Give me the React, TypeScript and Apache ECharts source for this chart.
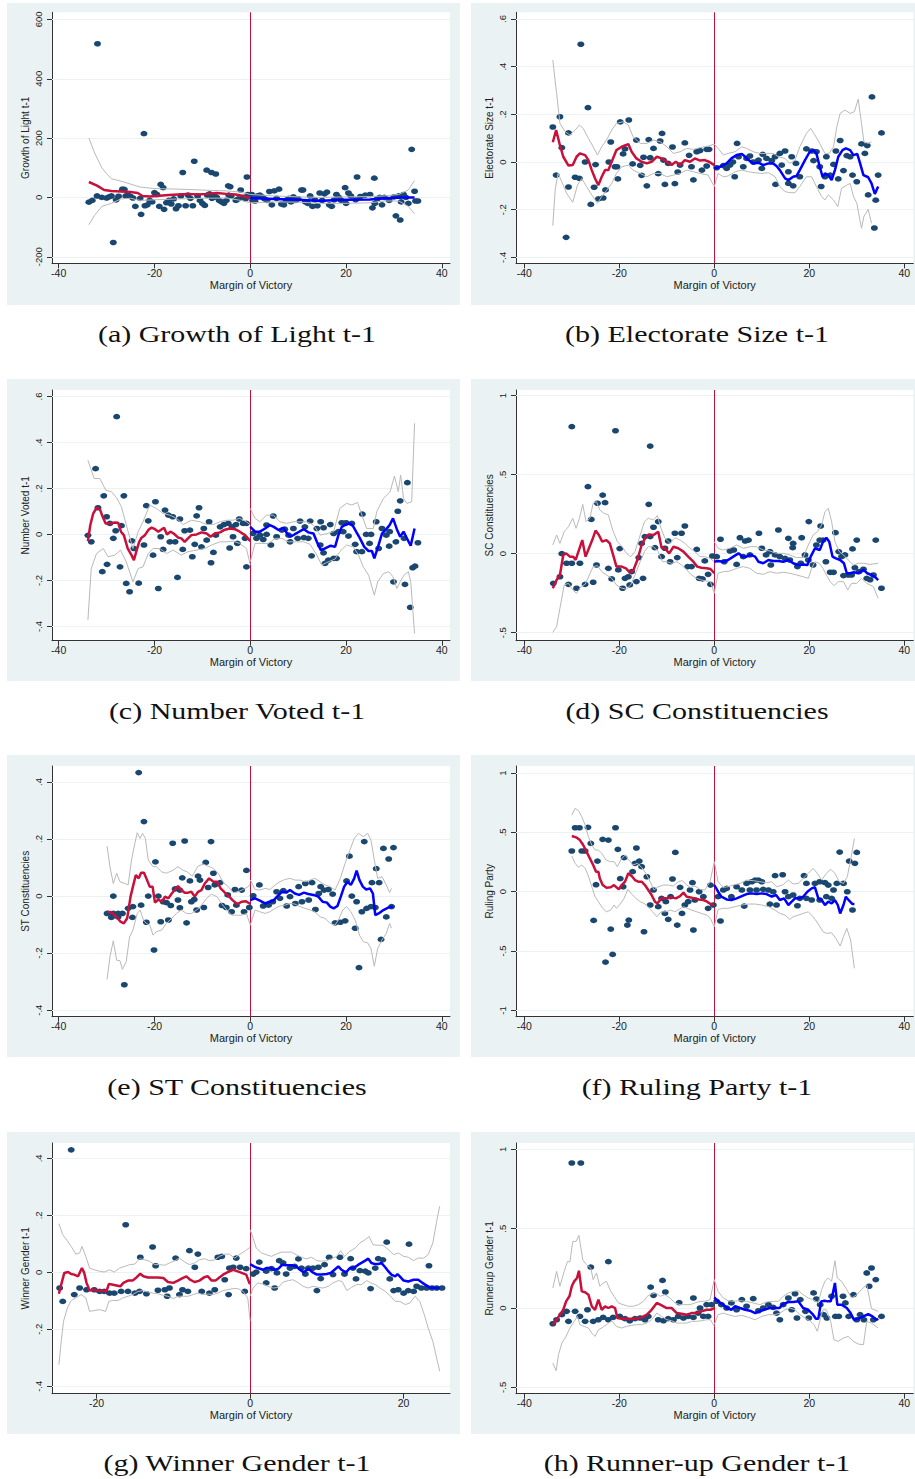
import React, { useEffect, useRef } from "react";
import * as echarts from "echarts";

const FONT = "'Liberation Sans', Arial, Helvetica, sans-serif";
const SERIF = "'Liberation Serif', 'Times New Roman', serif";
const NAVY = "#1a476f";
const RED = "#c8103a";
const BLUE = "#0000ff";
const GREY = "#b9b9b9";
const BG = "#eaf2f3";

const xTicks = [-40, -20, 0, 20, 40];
const xTicksG = [-20, 0, 20];

const captions = [
  "(a) Growth of Light t-1",
  "(b) Electorate Size t-1",
  "(c) Number Voted t-1",
  "(d) SC Constituencies",
  "(e) ST Constituencies",
  "(f) Ruling Party t-1",
  "(g) Winner Gender t-1",
  "(h) Runner-up Gender t-1",
];
const yTitles = [
  "Growth of Light t-1",
  "Electorate Size t-1",
  "Number Voted t-1",
  "SC Constituencies",
  "ST Constituencies",
  "Ruling Party",
  "Winner Gender t-1",
  "Runnerup Gender t-1",
];
const xTitle = "Margin of Victory";

const yTicksA = [-200, 0, 200, 400, 600];
const yTicksB = [-0.4, -0.2, 0, 0.2, 0.4, 0.6];
const yTicksC = [-0.4, -0.2, 0, 0.2, 0.4, 0.6];
const yTicksD = [-0.5, 0, 0.5, 1];
const yTicksE = [-0.4, -0.2, 0, 0.2, 0.4];
const yTicksF = [-1, -0.5, 0, 0.5, 1];
const yTicksG = [-0.4, -0.2, 0, 0.2, 0.4];
const yTicksH = [-0.5, 0, 0.5, 1];

// ---------- Panel (a) ----------
const aScatter = [-31.9,518,-22.2,215,-11.7,122,-14.1,84,-9.1,92,-8.1,84,-7.2,79,-0.7,69,-28.6,-152,-22.8,-57,22.3,69,25.9,65,33.7,162,30.4,-62,31.3,-76,19.8,33,10.7,25,34.3,21,35,-12,-4.6,39,-4.2,36,-18.7,44,-18.2,33,-20,16,-26.3,27,
-33.7,-16,-33,-10,-32,5,-31,0,-30,-2,-29.5,2,-29,5,-28,-8,-27.5,4,-26.7,28,-26,5,-25.5,8,-25,3,-24.5,-2,-24,-30,-23,-3,-22,-28,-21.5,-25,-21,-10,-20.5,-15,-19.5,10,-19,-30,-18,-40,-17.5,-18,-17,-10,-16.5,-22,-16,-5,-15.5,-38,-15,-28,-14.5,5,-13.5,-28,-13,8,-12.5,-3,-12,-28,-11,5,-10.5,-10,-10,-20,-9.5,-27,-9,8,-8.5,12,-8,-3,-7.5,5,-7,0,-6.5,-10,-6,-15,-5.5,-20,-5,-10,-4.5,8,-4,5,-3,-10,-2.5,-5,-2,25,-1.5,0,-1,-5,-0.5,10,
0.3,10,0.5,-10,1,-12,1.5,5,2,8,2.5,2,3,-5,3.5,-10,4,20,4.5,-25,5,22,5.5,-3,6,28,6.5,-22,7,-25,7.5,-10,8,-3,8.5,-15,9,2,9.5,-10,10,-5,11,25,11.5,-15,12,-20,12.5,5,13,-30,13.5,-8,14,-28,14.5,15,15,-10,15.5,12,16,18,16.5,-25,17,-30,17.5,-8,18,10,18.5,0,19,-10,20,-20,20.5,15,21,5,22,-8,23,3,24,8,25,10,25.5,-35,26,-20,26.5,-5,27,0,27.5,-25,28,0,29,-10,30,2,31,5,31.5,-15,32,10,32.5,0,33,-20,34.5,-12];
const aRed = [-33.7,52,-32,40,-30.5,25,-29,22,-27,20,-25,18,-23.5,15,-22.5,5,-21,3,-19,6,-17,8,-15,10,-13,12,-11,10,-9,12,-7,15,-5,12,-3,10,-1.5,5,0,-2];
const aRedHi = [-33.7,200,-32.5,150,-31,100,-30,80,-29,63,-27,55,-25,45,-23,35,-20,30,-15,28,-10,25,-5,22,-2,18,0,10];
const aRedLo = [-33.7,-92,-32.5,-60,-31,-30,-29,-20,-27,-5,-25,-3,-23,-10,-20,-8,-15,-5,-10,-3,-5,-2,-2,-10,0,-18];
const aBlue = [0,-2,5,-5,10,-8,15,-12,16,-10,20,-8,25,-7,28,-3,32,0,34.3,0];
const aBlueHi = [0,10,5,5,10,2,15,0,20,2,25,3,28,5,31,10,33,25,34.3,57];
const aBlueLo = [0,-18,5,-15,10,-16,15,-20,20,-20,25,-18,28,-12,31,-12,33,-30,34.3,-55];

// ---------- Panel (b) ----------
const bScatter = [-28.1,.494,-31.2,-.316,33.2,.273,33.7,-.277,35.2,.122,-26.6,.228,-34,.147,-32.5,.19,-30.7,.122,-32.1,.06,-33.3,-.055,-30.7,-.105,-29.3,-.064,-28.4,-.069,-27.2,0,-26,-.178,-25.3,-.106,-25,-.011,-24.4,-.155,-23.4,-.151,-22.9,-.117,-22.2,0,-21.8,.084,-20.9,-.02,-20.5,-.02,-20.3,-.071,-19.8,.168,-18,.176,-19.2,.034,-18.8,.055,-17.2,-.008,-16.4,.092,-15.6,-.014,-15.3,-.056,-14.2,-.1,-14.9,.02,-13.5,.018,-13.8,.094,-12.8,.057,-11.8,-.049,-11.4,.088,-11,.12,-10.4,-.094,-10.7,.008,-9.7,-.006,-8.8,.063,-8.3,-.091,-7.7,-.042,-7.2,-.013,-6.2,.08,-5.3,.028,-4.8,-.02,-4.4,-.075,-3.7,.043,-3,.048,-1.6,.053,-1.1,.053,-2.6,-.034,-1.6,-.017,
.5,-.024,1.9,-.015,2.6,-.027,3.3,-.013,4.3,-.062,4.8,.078,3.9,0,5.1,.022,6.1,-.02,6.8,.015,7.5,.025,8.2,0,9.3,.008,10.2,.032,10,-.027,11,.015,12.1,.006,12.8,.022,12.9,-.094,13.8,.036,14.9,.046,14.2,-.013,15.6,-.041,16.3,.022,17.2,-.006,18,-.062,15.6,-.09,16.6,-.1,19.4,.055,20.5,.046,21.5,.043,20.9,.006,22.2,-.02,22.5,-.103,23.3,-.062,24.4,-.055,23.6,.022,25.1,-.01,25.6,.046,26.1,-.071,26.5,.09,27.2,-.036,27.9,.027,28.6,.022,29.1,-.055,30,-.083,31,.076,31.7,.036,32.2,.069,32.4,-.138,34,-.16,34.5,-.055];
const bRed = [-34,.083,-33.3,.134,-32.6,.078,-31.8,.022,-30.7,-.015,-29.8,-.013,-29,.022,-28.3,.036,-27.2,.029,-26.5,.008,-25.8,-.034,-25.1,-.069,-24.4,-.097,-23.7,-.062,-23,-.034,-22.3,-.034,-21.6,.001,-20.6,.05,-19.5,.064,-18.1,.075,-17.4,.043,-16.4,.015,-15.3,.001,-14.2,-.006,-13.2,.001,-12.1,.022,-11.1,.015,-10,.001,-9,-.013,-8.1,.001,-7.2,-.013,-6.2,.008,-5.1,.001,-4.1,.015,-3,.006,-2,.008,-1.1,.001,0,-.013];
const bRedHi = [-34,.428,-33.2,.288,-32.5,.162,-31.4,.127,-30.4,.113,-29.3,.134,-28.4,.155,-27.6,.141,-26.5,.099,-25.5,.064,-24.6,.029,-23.7,.064,-22.7,.092,-21.6,.134,-20.6,.162,-19.2,.169,-18.1,.155,-17.1,.106,-15.6,.078,-14.2,.078,-12.8,.092,-11.4,.085,-10,.064,-8.6,.036,-7.2,.043,-5.8,.057,-4.4,.053,-3,.06,-1.3,.067,0,.075];
const bRedLo = [-34,-.267,-33.5,-.117,-32.9,-.048,-32.1,-.083,-31.1,-.131,-29.8,-.169,-28.8,-.097,-27.9,-.069,-26.9,-.103,-25.8,-.138,-24.6,-.173,-23.7,-.145,-22.7,-.12,-21.6,-.09,-20.6,-.048,-19.5,-.02,-18.1,-.013,-17.1,-.034,-15.6,-.048,-14.2,-.062,-12.8,-.048,-11.4,-.048,-10,-.062,-8.6,-.055,-7.2,-.048,-5.8,-.034,-4.4,-.041,-3,-.048,-1.3,-.055,0,-.103];
const bBlue = [0,-.027,1.2,-.02,2.6,-.006,3.6,.015,4.7,.029,5.8,.034,6.5,.022,7.2,.008,8.2,-.006,9.3,-.003,10.3,-.013,11.4,-.006,12.4,-.006,13.1,-.017,13.8,-.034,14.9,-.069,15.6,-.076,16.6,-.062,17.3,-.059,18,-.034,19.1,.008,20.1,.043,21,.05,21.5,.036,22.2,-.02,22.8,-.062,23.3,-.048,24,-.055,24.7,-.076,25.4,-.034,26.1,.022,27,.05,27.7,.057,28.6,.05,29.3,.029,30.1,.034,30.7,-.006,31.4,-.055,32.4,-.064,33.1,-.09,33.8,-.134,34.5,-.103];
const bBlueHi = [0,.075,.8,.057,1.9,.029,2.9,.036,4.4,.043,5.8,.064,6.8,.057,8.2,.043,9.6,.036,11,.036,12.4,.036,13.5,.022,14.9,.015,15.9,-.006,17,.008,18,.064,19.4,.12,20.3,.141,21.2,.113,22.2,.078,23.3,.036,24.2,.036,25.1,.064,25.8,.148,26.5,.204,27.5,.218,28.6,.204,29.5,.211,30.3,.264,31,.162,31.5,.085,32.4,.078,33.1,.085];
const bBlueLo = [0,-.103,.8,-.048,1.9,-.062,2.9,-.059,4.4,-.041,5.8,-.034,7.2,-.041,8.6,-.045,10,-.048,11.4,-.045,12.8,-.062,13.8,-.103,14.9,-.124,15.9,-.129,17,-.129,18,-.103,19.4,-.062,20.5,-.062,21.5,-.103,22.6,-.145,23.3,-.159,24,-.138,25.1,-.159,26,-.187,26.8,-.11,27.9,-.097,28.6,-.09,29.3,-.145,30,-.173,31,-.278,31.5,-.229,32.4,-.199,33.1,-.257];

// ---------- Panel (c) ----------
const cScatter = [-27.9,.512,-32.3,.286,-33.9,-.004,-33.2,-.032,-30.6,.168,-30,.077,-31.8,.116,-30.9,-.162,-29.9,-.13,-28.6,-.017,-28.1,.016,-29.3,.048,-26.9,.038,-26.4,.168,-27.2,-.141,-25.9,-.213,-25.2,-.249,-24.7,-.028,-24.3,-.061,-23.3,-.212,-22.2,-.046,-21.7,.125,-21.3,.059,-20.3,-.09,-19.8,.142,-19.2,-.235,-18.7,-.01,-18.2,-.065,-17.8,.106,-17.1,.084,-16.2,.077,-16.8,-.032,-15.7,-.032,-15.2,-.187,-14.7,.067,-14.1,-.065,-13.7,.016,-12.6,.019,-12.1,-.097,-11.6,-.043,-11.2,.081,-10.7,.116,-10.2,-.054,-9.7,.026,-9.1,-.025,-8.6,.055,-8.2,-.123,-7.7,-.078,-7.2,-.003,-6.3,.033,-5.5,.043,-4.6,.048,-3.8,.033,-3,.043,-2.3,.067,-1.5,.048,-.8,.048,-4.3,-.059,-3.6,-.01,-2.7,-.039,-.8,-.141,-1.1,-.017,
.6,.004,1.3,-.017,2,-.003,2.7,-.022,3.4,0,4.3,-.046,3.4,.041,4.8,.08,5.5,-.01,6.6,.019,7.2,.023,8,-.003,9,.026,8.3,-.032,9.9,-.017,10.4,.058,11.4,.033,12.5,.058,11.2,-.014,12.1,-.017,12.8,-.093,13.9,.026,14.7,.055,15.3,.029,14.6,-.046,15.3,-.08,15.6,-.126,16.3,-.112,17.4,-.104,18,-.104,16.7,.043,17.4,.004,18.4,.012,19.1,.051,20,.051,21.2,.048,19.4,.012,20.5,-.007,21.9,-.043,22.2,-.075,23.3,-.075,23.4,.088,24.2,0,25.2,0,24.9,-.039,26.3,.055,26.8,-.061,27.5,.026,28.4,-.003,29.1,.012,29,-.051,29.9,-.206,30.4,-.032,30.8,.101,31.3,.146,32.1,-.017,32.3,-.217,32.8,.225,33.4,-.317,33.9,-.145,34.4,-.138,35,-.036];
const cRed = [-33.9,-.029,-33.4,.041,-32.8,.091,-32.1,.116,-31.4,.11,-30.9,.081,-30.2,.048,-29.3,.048,-28.3,.052,-27.6,.051,-27,.012,-26.4,-.003,-25.6,-.061,-24.8,-.09,-24.3,-.112,-23.8,-.075,-23.2,-.032,-22.7,-.014,-22,-.003,-21.3,.019,-20.6,.03,-19.9,.023,-19.2,.012,-18.7,.019,-18,.029,-17.4,0,-16.7,.012,-16,.004,-15.1,-.013,-14.4,-.017,-13.7,-.032,-13,-.017,-12.3,-.003,-11.2,0,-10.2,.009,-9.1,.004,-8.3,-.01,-7.4,.004,-6.3,.009,-5.5,.019,-4.3,.026,-3.2,.023,-2.2,.012,-1.1,-.003,0,-.029];
const cRedHi = [-33.9,.323,-32.6,.243,-31.4,.243,-30.2,.193,-29,.186,-27.9,.159,-26.9,.12,-25.5,.012,-24.5,-.061,-23.4,.012,-22.4,.055,-21,.128,-19.6,.113,-18.2,.091,-16.8,.084,-15.4,.07,-14,.043,-12.3,.062,-10.5,.055,-9.1,.043,-7.7,.043,-6.3,.055,-4.9,.062,-3.6,.062,-2.2,.07,-.8,.055,0,.041];
const cRedLo = [-33.9,-.372,-33.2,-.148,-32.1,-.083,-30.7,-.061,-29.7,-.097,-28.3,-.09,-27.1,-.068,-25.9,-.119,-24.5,-.206,-23.4,-.148,-22.4,-.141,-21.3,-.083,-20.3,-.061,-18.9,-.061,-17.5,-.083,-16.1,-.068,-14.4,-.09,-13,-.075,-11.2,-.068,-9.5,-.061,-8.1,-.046,-6.3,-.032,-4.9,-.032,-3.6,-.029,-2.2,-.039,-.8,-.061,0,-.133];
const cBlue = [0,.033,1,.012,2,.012,3.1,.026,4.1,.041,4.9,.033,5.9,.019,6.9,.029,7.7,.004,8.4,-.01,9.3,.001,10.4,.014,11.2,.023,12.1,.009,13.2,.004,13.9,-.032,14.7,-.068,15.6,-.061,16.8,-.049,17.7,-.054,18.4,-.003,19.1,.033,19.8,.041,20.7,.048,21.4,.038,22.1,.012,22.9,-.017,23.8,-.054,24.7,-.072,25.4,-.072,25.9,-.104,26.6,-.058,27.5,.004,28.4,.023,29.1,.041,29.8,.07,30.6,.023,31.3,-.01,32,.012,32.7,-.017,33.5,-.049,34.3,.026];
const cBlueHi = [0,.113,1,.07,2,.055,3.4,.084,4.8,.084,6.2,.055,7.6,.048,9,.055,10.4,.055,11.8,.055,13.2,.041,14.6,-.003,16,.004,17.4,.012,18.7,.113,20.1,.135,21.2,.128,22.4,.139,23.3,.084,24.3,.026,25.7,.026,26.4,.099,27.8,.157,29.2,.186,30.1,.254,30.9,.186,31.4,.258,32,.157,32.7,.135,33.7,.142,34.3,.483];
const cBlueLo = [0,-.119,1,-.039,2.4,-.039,3.8,-.039,5.2,-.017,6.6,-.017,7.9,-.032,9.7,-.032,11.1,-.032,12.5,-.043,13.9,-.09,14.9,-.133,16.3,-.119,17.7,-.107,18.7,-.075,20.1,-.046,21.5,-.054,22.6,-.09,23.6,-.141,24.7,-.177,25.9,-.264,26.6,-.206,27.8,-.17,28.9,-.162,29.8,-.184,30.6,-.235,31.3,-.206,32.1,-.177,33,-.162,33.5,-.206,34.3,-.43];

// ---------- Panel (d) ----------
const dScatter = [-30,.804,-20.8,.778,-13.5,.681,-26.6,.424,-23.5,.371,-24.6,.319,-23,.323,-13.8,.312,-25.9,.217,-11.8,.203,-12.8,.167,-14.6,.108,-13.5,.108,-15.3,.065,-19.9,.032,-32.1,0,-31.1,-.061,-30,-.061,-28.3,-.061,-33.9,-.188,-32.5,-.146,-30.7,-.194,-29,-.219,-27.2,-.194,-25.5,-.181,-24.8,-.072,-22.3,-.093,-21.6,-.16,-20.2,-.103,-19.3,-.219,-18.8,-.156,-18.1,-.146,-17.4,-.114,-17.8,-.198,-16.4,-.177,-15,-.156,-15.9,-.025,-12.5,.038,-11.1,-.019,-10.4,.034,-9.7,.08,-9.3,-.051,-8.3,.129,-6.9,.129,-7.8,-.025,-6.2,.175,-5.6,-.082,-4.8,-.082,-3.7,.027,-3.2,-.156,-2.5,-.16,-2,-.046,-1.3,-.131,-.8,-.194,-.4,-.015,
.5,-.019,1.3,.091,2.1,-.051,3.3,.017,4.1,.023,4.7,-.068,5.4,.101,6.5,.08,7.2,.086,6.1,-.019,7.5,-.008,9.4,.129,10,.034,10.9,-.008,11.9,-.072,11.7,.013,12.8,-.008,13.8,-.019,13.5,.15,14.9,-.03,15.9,-.04,15.6,.097,16.6,.065,16.5,.038,17.5,-.082,18.2,-.061,18.4,.101,19.1,-.008,19.8,-.04,19.9,.203,20.8,-.072,21.5,.055,22.2,.086,22.9,.086,22.4,.175,23.5,-.051,24.4,-.118,25.1,-.118,25.5,.133,26.2,.013,26.8,-.019,27.5,-.008,27.2,-.139,28.2,-.135,28.9,-.135,29.1,.03,30,.086,29.6,-.089,30.5,-.114,31.4,-.099,32.1,-.156,32.8,-.165,33.5,-.135,34,.086,35.2,-.219];
const dRed = [-34,-.219,-33.2,-.167,-32.5,-.135,-31.8,-.008,-31.2,.002,-30.4,-.019,-29.7,-.019,-29.2,-.04,-28.5,.023,-27.8,.086,-27.1,-.019,-26.4,.034,-25.7,.086,-25,.146,-24.3,.118,-23.6,.076,-22.7,.086,-22,.065,-21.3,-.008,-20.6,-.082,-19.5,-.082,-18.6,-.093,-17.8,-.118,-17.1,-.11,-16.2,-.04,-15.3,.055,-14.6,.097,-13.8,.122,-12.8,.118,-11.8,.139,-11.1,.038,-10.4,.034,-9.5,.002,-8.6,.044,-7.6,.034,-6.5,.013,-5.5,-.019,-4.4,-.051,-3.6,-.082,-2.7,-.089,-1.6,-.093,-.8,-.097,0,-.124];
const dRedHi = [-34,.055,-33.2,.118,-32.5,.065,-31.6,.139,-30.7,.171,-29.8,.224,-29.1,.16,-28.4,.224,-27.7,.312,-27,.203,-26.2,.224,-25.5,.319,-24.8,.329,-24.1,.276,-23.2,.255,-22.3,.245,-21.4,.15,-20.4,.076,-19.4,.044,-18.5,.002,-17.6,-.019,-16.7,.013,-15.6,.118,-14.7,.203,-13.9,.224,-12.8,.213,-12,.241,-11.2,.16,-10.4,.097,-9.3,.065,-8.3,.101,-7.2,.086,-6.2,.065,-5.1,.034,-4.1,.013,-3,-.019,-2,-.019,-.9,-.03,0,-.051];
const dRedLo = [-34,-.498,-33.2,-.462,-32.5,-.346,-31.6,-.198,-30.7,-.188,-29.8,-.23,-29,-.251,-28.1,-.209,-27.2,-.194,-26.3,-.135,-25.5,-.082,-24.6,-.076,-23.7,-.114,-22.7,-.135,-21.6,-.156,-20.6,-.198,-19.5,-.219,-18.5,-.224,-17.6,-.198,-16.7,-.135,-15.6,-.051,-14.7,.013,-13.9,.044,-12.8,.044,-11.8,.013,-10.9,-.051,-10,-.051,-9,-.061,-7.9,-.051,-6.9,-.072,-5.8,-.103,-4.8,-.135,-3.7,-.156,-2.7,-.167,-1.6,-.173,-.8,-.177,0,-.251];
const dBlue = [0,-.051,.8,-.046,1.9,-.051,2.9,-.04,4,-.019,5.1,.002,6,-.019,6.8,-.019,7.6,-.008,8.6,-.019,9.3,-.051,10.3,-.061,11.4,-.04,12.4,-.046,13.5,-.046,14.5,-.051,15.6,-.04,16.6,-.061,17.7,-.072,18.7,-.068,19.6,-.072,20.3,-.019,21.2,.034,22.2,.023,22.9,.076,23.6,.101,24.2,.076,24.9,-.019,25.6,-.03,26.5,-.04,27.3,-.061,27.9,-.124,28.6,-.124,29.4,-.118,30.3,-.124,31.4,-.103,32.2,-.124,33.1,-.135,34,-.152,34.5,-.167];
const dBlueHi = [0,.076,.8,.034,1.9,.023,3.3,.034,4.7,.055,6.1,.034,7.5,.044,8.9,.044,10.3,.023,11.7,.017,13.1,.002,14.5,.002,15.9,-.008,17.3,-.025,18.7,-.025,19.8,.055,20.8,.118,21.7,.139,22.6,.181,23.3,.266,24,.287,24.7,.203,25.4,.076,26.3,.013,27.2,-.008,28.2,-.04,29.3,-.072,30.3,-.061,31.4,-.061,32.8,-.068,34.5,-.061];
const dBlueLo = [0,-.251,.8,-.124,1.9,-.114,3.3,-.11,4.7,-.093,6.1,-.082,7.5,-.093,8.9,-.124,10.3,-.131,11.7,-.114,13.1,-.124,14.5,-.118,15.9,-.124,17.3,-.135,18.7,-.146,19.8,-.156,20.5,-.093,21.2,-.051,22.1,-.061,22.9,-.093,23.6,-.135,24.4,-.177,25.2,-.203,26.1,-.177,27.2,-.177,28.1,-.23,28.9,-.188,30,-.188,31,-.156,32.1,-.188,33.5,-.209,34.5,-.283];

// ---------- Panel (e) ----------
const eScatter = [-23.3,.433,-22.2,.261,-16.2,.185,-13.7,.193,-8.2,.191,-19.8,.12,-9.3,.118,-.8,.09,-7.7,.08,-10.5,.056,-14.2,.064,-12.6,.053,-8.8,.03,-7.4,.039,-6.3,.047,-10.9,.07,-15.7,.025,-14.7,.021,-28.6,0,-21.3,0,-19.2,0,-29.9,-.061,-28.6,-.061,-27.6,-.061,-26.7,-.061,-29,-.075,-27.6,-.073,-25.5,-.043,-24.5,-.037,-24.6,-.075,-22.8,-.032,-21.7,-.092,-26.3,-.311,-20.1,-.189,-18.7,-.09,-17.1,-.084,-18.2,-.02,-17.5,-.023,-16.6,-.033,-15.1,-.014,-14.7,-.041,-13.3,-.094,-12.3,-.02,-11.7,-.012,-11.2,-.049,-9.7,-.04,-5.9,-.033,-5,-.04,-3.9,-.055,-4.7,.004,-3.2,.023,-1.8,.021,-2.9,-.032,-1.3,-.055,-.2,-.04,
.6,.001,1.9,.039,2.7,-.035,3.8,-.032,4.7,-.02,5.5,.015,6.2,-.008,6.9,.019,7.6,-.035,8.3,-.002,9.4,-.026,10.1,.033,10.8,-.02,11.5,.044,12.2,-.014,12.9,.047,13.6,-.047,14.3,.009,14.7,.033,15.4,.021,16.3,.023,17.2,.007,17.7,-.094,18.8,-.092,19.8,-.087,20.7,.14,20.1,.053,21.2,0,21.9,-.113,22.2,-.02,22.7,-.251,23.8,.191,23.3,-.055,24.3,-.043,25.2,-.037,26.1,-.04,25.4,.047,26.3,.096,26.9,.047,27.3,-.152,27.8,.167,29.9,.17,28.4,-.073,28.9,.13,29.5,-.037];
const eRed = [-29.9,-.055,-29,-.057,-27.9,-.073,-27.1,-.09,-26.4,-.096,-25.7,-.078,-25,-.002,-24.5,.033,-23.9,.074,-23.3,.062,-22.8,.082,-22.2,.082,-21.7,.062,-21,.033,-20.4,.033,-19.9,-.023,-19.2,-.012,-18.5,-.02,-17.8,-.002,-17.1,-.008,-16.4,.009,-15.7,.023,-15.1,.035,-14.4,.021,-13.7,.012,-13,.012,-12.3,.015,-11.6,-.002,-10.9,.015,-10.2,.021,-9.5,.044,-8.6,.062,-7.7,.05,-6.9,.05,-6.2,.027,-5.3,.012,-4.4,-.002,-3.6,-.016,-2.7,-.028,-1.8,-.02,-.9,-.018,0,-.028];
const eRedHi = [-29.9,.175,-29.3,.103,-28.6,.044,-27.9,.08,-27.2,.05,-26.2,.044,-25.5,.039,-24.8,.126,-24.1,.185,-23.6,.222,-23,.202,-22.5,.22,-21.9,.202,-21.3,.126,-20.3,.103,-19.6,.103,-18.5,.085,-17.5,.08,-16.1,.091,-15.1,.103,-14.1,.091,-13.2,.085,-12.1,.07,-10.9,.105,-9.8,.112,-8.8,.105,-7.7,.097,-6.7,.08,-5.6,.047,-4.6,.033,-3.6,.012,-2.5,.015,-1.5,.023,-.4,.033,0,.044];
const eRedLo = [-29.9,-.292,-29.3,-.213,-28.6,-.157,-27.9,-.225,-27.2,-.227,-26.7,-.257,-25.9,-.23,-25.2,-.143,-24.5,-.119,-23.6,-.061,-23,-.049,-22.3,-.084,-21.7,-.096,-21,-.102,-20.3,-.137,-19.6,-.125,-18.5,-.119,-17.5,-.096,-16.4,-.078,-15.4,-.061,-14.4,-.049,-13.3,-.061,-12.3,-.061,-11.2,-.049,-10.2,-.032,-9.1,-.008,-8.1,.007,-7,-.002,-6,-.026,-4.9,-.049,-3.9,-.067,-2.9,-.067,-1.8,-.067,-.8,-.061,0,-.102];
const eBlue = [0,-.014,1,-.008,2,-.016,3.1,-.026,4,-.02,4.8,-.016,5.6,-.002,6.6,.015,7.5,.012,8.3,.021,9.3,.009,10.2,.004,11.2,.012,12.1,.007,13.2,.004,14.2,-.002,15.1,-.02,16,-.023,16.7,-.037,17.4,-.043,18.2,-.035,18.9,-.002,19.6,.033,20.3,.05,21,.039,21.7,.062,22.2,.089,22.8,.056,23.5,.033,24.2,.023,25,.027,25.6,.009,26.1,-.067,26.8,-.061,27.8,-.049,28.9,-.04,29.8,-.037];
const eBlueHi = [0,.056,1,.023,2,.021,3.1,.027,4.1,.023,5.2,.039,6.2,.05,7.2,.058,8.3,.062,9.3,.056,10.4,.056,11.4,.05,12.5,.056,13.5,.062,14.6,.05,15.6,.039,16.7,.033,17.7,.021,18.8,.062,19.8,.115,20.8,.161,21.7,.202,22.6,.22,23.6,.208,24.5,.22,25.2,.196,25.9,.126,26.6,.062,27.5,.068,28.4,.039,29.1,.012,29.5,.027];
const eBlueLo = [0,-.102,1,-.049,2,-.055,3.1,-.061,4.1,-.055,5.2,-.043,6.2,-.035,7.2,-.032,8.3,-.026,9.3,-.028,10.4,-.037,11.4,-.043,12.5,-.049,13.5,-.055,14.6,-.073,15.6,-.078,16.7,-.096,17.7,-.102,18.4,-.084,19.3,-.049,20.1,-.037,21,-.055,21.9,-.084,22.8,-.137,23.6,-.16,24.5,-.164,25.2,-.184,25.9,-.246,26.6,-.184,27.5,-.154,28.4,-.131,29.1,-.096,29.5,-.113];

// ---------- Panel (f) ----------
const fScatter = [-30,.343,-29.3,.539,-28.4,.539,-27.9,.343,-27.2,.343,-26.6,.542,-26,.407,-24.6,.258,-24.9,.059,-25.4,-.242,-23.5,.441,-22.3,.435,-22.9,-.593,-21.4,-.528,-21.8,-.315,-20.8,.539,-20.3,.357,-19.8,.11,-19.2,.042,-19,.287,-18.3,-.281,-18,-.239,-17.2,.169,-16.4,.368,-16.7,.239,-15.8,.258,-15.3,.211,-14.8,-.337,-14.2,.126,-13.5,-.112,-12.8,.014,-11.8,-.126,-11.1,-.056,-10.2,-.084,-9.2,-.042,-10.4,-.183,-9.7,-.233,-8.2,.331,-8.8,.107,-7.8,-.281,-7.2,.037,-6.8,-.183,-6.2,-.112,-5.5,-.084,-5.1,.014,-4.6,.076,-4.4,-.323,-4.1,-.07,-3.2,0,-2.3,-.042,-1.3,-.14,-.8,.056,-.2,-.112,
1.3,-.247,.8,-.042,1.9,.014,2.6,.028,3.6,-.042,4.7,.042,5.8,.014,6.3,-.121,6.8,.07,7.9,.084,8.6,.098,9.3,.098,10,.084,7.5,.014,8.9,.014,10.3,.02,11.4,.014,12.4,0,11.7,-.104,13.1,-.112,12.8,.135,14.4,.143,14.9,0,15.6,-.042,16.6,-.028,17.5,-.118,18,-.056,19.4,-.056,20.5,-.07,18.9,.135,19.4,.07,21.2,.07,22.2,.084,23.3,.076,24,.056,22.2,-.07,23.6,-.042,24.7,-.056,25.1,.014,25.8,.07,26.4,.334,27.2,.07,28,0,28.4,.258,29.1,-.154,29.6,.239,30,.331];
const fRed = [-30,.469,-29.1,.458,-28.3,.435,-27.6,.393,-26.9,.337,-26.2,.281,-25.5,.225,-24.9,.169,-24.4,.169,-24.1,.112,-23.5,.056,-22.7,.034,-21.8,.037,-21.1,.056,-20.6,.037,-20.1,.02,-19.5,.056,-18.8,.084,-18.1,.155,-17.4,.132,-16.7,.098,-16,.084,-15.3,.084,-14.6,.056,-13.9,.014,-13.2,-.028,-12.5,-.084,-12,-.098,-11.1,-.056,-10,-.056,-9,-.048,-8.1,-.056,-7.2,-.037,-6.5,-.008,-5.8,-.042,-5,-.048,-4.1,-.056,-3.2,-.065,-2.3,-.07,-1.5,-.084,-.8,-.104,0,-.112];
const fRedHi = [-30,.646,-29.3,.702,-28.6,.683,-27.9,.632,-27.2,.562,-26.5,.463,-25.8,.393,-25.1,.351,-24.4,.351,-23.7,.323,-22.8,.267,-21.9,.253,-21.1,.253,-20.4,.211,-19.7,.267,-18.8,.309,-18,.267,-17.1,.225,-16.2,.239,-15.3,.205,-14.4,.155,-13.5,.084,-12.7,.014,-11.8,.042,-10.7,.056,-9.7,.056,-8.6,.048,-7.6,.084,-6.7,.093,-5.8,.056,-5,.037,-4.1,.048,-3,.02,-2,.014,-.9,.084,0,.253];
const fRedLo = [-30,.301,-29.3,.239,-28.6,.205,-27.9,.225,-27.2,.197,-26.5,.132,-25.8,.042,-25.1,-.042,-24.4,-.084,-23.5,-.14,-22.7,-.169,-21.8,-.155,-21.1,-.112,-20.6,-.14,-19.8,-.104,-19,-.056,-18.2,.02,-17.4,-.02,-16.5,-.056,-15.6,-.084,-14.8,-.098,-13.9,-.126,-13,-.169,-12.1,-.211,-11.2,-.169,-10.2,-.169,-9.2,-.155,-8.3,-.169,-7.4,-.149,-6.5,-.126,-5.7,-.14,-4.8,-.155,-3.7,-.169,-2.7,-.183,-1.6,-.197,-.8,-.225,0,-.295];
const fBlue = [0,.056,.8,0,1.5,-.042,2.6,-.065,3.6,-.07,4.7,-.056,5.8,-.037,6.8,-.02,7.9,-.014,8.9,-.02,10,-.014,11,-.02,12.1,-.042,13,-.028,13.8,-.07,14.7,-.056,15.6,-.112,16.3,-.084,17,-.056,17.9,-.056,18.7,-.042,19.6,0,20.5,.028,21.2,.037,21.9,-.056,22.6,-.07,23.3,-.112,24,-.084,24.7,-.098,25.4,-.07,26,-.112,26.5,-.183,27.2,-.112,27.7,-.042,28.4,-.076,29.1,-.104,29.5,-.104];
const fBlueHi = [0,.253,.8,.084,1.9,.037,2.9,.042,4,.056,5.4,.07,6.8,.098,8.2,.093,9.6,.084,11,.076,12.1,.084,13.1,.042,14.4,.056,15.6,.098,16.6,.065,17.7,.07,18.7,.112,19.8,.155,20.8,.197,21.7,.155,22.6,.098,23.6,.155,24.5,.188,25.4,.155,26.3,.084,27.2,.07,28,.126,28.7,.267,29.5,.449];
const fBlueLo = [0,-.295,.8,-.149,1.9,-.14,2.9,-.14,4.4,-.126,5.8,-.112,7.2,-.104,8.6,-.104,10,-.112,11.4,-.126,12.8,-.155,13.8,-.183,14.9,-.197,15.9,-.233,16.6,-.211,17.7,-.197,18.7,-.183,19.8,-.169,20.8,-.211,21.9,-.272,22.9,-.337,23.6,-.351,24.7,-.346,25.6,-.393,26.5,-.458,27.2,-.379,27.9,-.309,28.7,-.407,29.5,-.646];

// ---------- Panel (g) ----------
const gScatter = [-23.3,.43,-16.2,.167,-12.7,.089,-14.3,.053,-12.3,.023,-9.7,.05,-7.9,.076,-6.8,.064,-7.2,.018,-4.2,.053,-3.7,.056,-1.8,.05,-24.8,-.055,-24.4,-.102,-22.9,-.078,-22.2,-.055,-21.3,-.061,-20.3,-.061,-19.6,-.067,-19,-.067,-18.3,-.073,-17.7,-.073,-16.8,-.067,-15.9,-.067,-15,-.073,-14.4,-.067,-13.5,-.075,-12,-.063,-11.1,-.061,-10.5,-.055,-10.8,-.084,-9.2,-.078,-8.8,-.061,-8.1,-.067,-6.3,-.067,-5.3,-.073,-4.6,-.061,-3.3,-.026,-2.8,-.078,-.7,-.067,-2.7,.015,-2.2,.018,-1.3,.018,-.5,.013,.4,-.006,.8,.001,
1.2,.036,2.1,.004,2.8,.013,3.5,-.002,3.8,.041,4.3,.033,4.7,-.006,5.2,.015,5.8,.021,6.3,.047,6.7,.015,7.2,-.006,7.6,.015,8.2,.015,8.9,.018,2.1,-.037,3.2,-.055,8.7,-.064,9.2,-.022,9.7,.027,10.3,.053,10.8,-.008,11.7,.053,12.3,-.006,13.1,.048,13.8,-.023,13.4,.015,14.3,.006,15,.004,15.4,-.002,15.7,-.057,16.3,.015,16.7,.048,17.3,.044,17.8,.106,18.2,-.023,18.7,-.064,19.3,-.061,20,-.073,20.6,-.064,21.3,-.067,20.7,.099,21.7,-.049,22.3,-.055,23,-.055,23.7,-.055,24.3,-.055,25,-.055,23.3,.023];
const gRed = [-24.9,-.075,-24.6,-.043,-24.2,-.002,-23.7,.001,-23.3,-.006,-22.9,-.008,-22.4,-.014,-22.1,.004,-21.9,.015,-21.6,-.002,-21.3,-.037,-20.9,-.064,-20.5,-.061,-19.8,-.064,-19.2,-.064,-18.7,-.067,-18.4,-.041,-18,-.043,-17.4,-.046,-16.9,-.049,-16.5,-.037,-15.9,-.029,-15.3,-.029,-14.8,-.018,-14.3,-.005,-13.9,-.014,-13.3,-.018,-12.7,-.018,-12,-.018,-11.3,-.02,-10.7,-.034,-10,-.037,-9.4,-.029,-8.8,-.02,-8.3,-.014,-7.8,-.026,-7.2,-.034,-6.6,-.029,-5.9,-.016,-5.5,-.014,-5,-.029,-4.5,-.029,-4,-.018,-3.4,-.006,-2.9,.001,-2.2,.009,-1.7,.004,-1.1,-.002,-.5,-.008,-.1,-.037,0,-.041];
const gRedHi = [-24.9,.171,-24.4,.132,-23.8,.111,-23.3,.091,-22.7,.064,-22.2,.068,-21.9,.091,-21.4,.056,-20.9,.015,-20.3,.009,-19.6,.004,-19,.001,-18.3,.009,-17.7,.001,-17,.015,-16.3,.021,-15.7,.027,-15,.029,-14.4,.048,-13.7,.044,-13.1,.039,-12.4,.027,-11.8,.027,-11.1,.025,-10.5,.033,-9.8,.041,-9.2,.05,-8.5,.036,-7.9,.027,-7.2,.033,-6.6,.044,-5.9,.048,-5.3,.041,-4.6,.044,-4,.056,-3.3,.064,-2.7,.064,-2,.05,-1.3,.064,-.7,.074,0,.088];
const gRedLo = [-24.9,-.324,-24.6,-.242,-24.3,-.172,-23.8,-.125,-23.3,-.099,-22.7,-.09,-22,-.078,-21.4,-.09,-20.9,-.137,-20.3,-.134,-19.6,-.131,-18.8,-.137,-18.4,-.102,-17.9,-.099,-17.2,-.099,-16.6,-.09,-15.9,-.084,-15.3,-.078,-14.6,-.067,-14,-.064,-13.3,-.069,-12.7,-.073,-12,-.075,-11.3,-.081,-10.7,-.084,-10,-.092,-9.4,-.084,-8.7,-.084,-8.1,-.084,-7.4,-.078,-6.8,-.073,-6.1,-.078,-5.5,-.076,-4.8,-.078,-4.2,-.073,-3.5,-.064,-2.9,-.061,-2.2,-.057,-1.6,-.057,-.9,-.067,-.3,-.09,0,-.17];
const gBlue = [0,.029,.5,.021,1,.015,1.7,.009,2.1,.015,2.7,.015,3.2,.009,3.7,.013,4.2,.027,4.7,.025,5.4,.025,6,.021,6.5,.009,7,0,7.6,.013,8.1,.001,8.7,-.008,9.3,-.008,10,-.006,10.5,-.002,11,.009,11.5,.021,11.9,.009,12.5,0,13,.015,13.5,.015,14.1,.027,14.5,.033,15,.041,15.4,.048,15.8,.033,16.3,.029,16.7,.029,17.1,.033,17.6,.018,18,.004,18.4,-.008,18.9,-.014,19.2,-.006,19.5,-.014,20,-.029,20.6,-.032,21.3,-.026,21.9,-.026,22.3,-.034,22.8,-.043,23.4,-.053,24.1,-.055,24.7,-.055];
const gBlueHi = [0,.15,.4,.12,.8,.085,1.5,.068,2.1,.062,2.8,.056,3.4,.064,4.1,.071,4.7,.071,5.4,.071,6,.062,6.7,.053,7.3,.047,8,.053,8.7,.041,9.3,.039,10,.041,10.6,.048,11.3,.056,11.8,.076,12.3,.056,13,.074,13.7,.085,14.3,.103,15,.115,15.5,.126,16,.097,16.7,.095,17.3,.095,18,.08,18.7,.062,19.3,.068,20,.056,20.6,.053,21.3,.041,21.9,.05,22.6,.05,23.2,.062,23.8,.103,24.3,.179,24.7,.232];
const gBlueLo = [0,-.084,.4,-.055,1,-.037,1.7,-.041,2.3,-.049,3,-.055,3.7,-.053,4.3,-.034,5,-.029,5.6,-.026,6.3,-.037,6.9,-.049,7.6,-.055,8.2,-.049,8.9,-.053,9.5,-.055,10.2,-.049,10.8,-.037,11.5,-.029,12,-.032,12.6,-.064,13.2,-.053,13.9,-.043,14.5,-.043,15.2,-.029,15.7,-.037,16.3,-.043,16.9,-.055,17.6,-.067,18.2,-.081,18.9,-.102,19.5,-.102,20.2,-.113,20.8,-.108,21.5,-.084,22.1,-.102,22.7,-.149,23.2,-.195,23.8,-.242,24.3,-.301,24.7,-.347];

// ---------- Panel (h) ----------
const hScatter = [-30,.914,-28.1,.914,-26,.258,-22.3,.292,-13.4,.132,-12.8,.08,-10.9,.174,-10.3,.101,-7.4,.034,-4.4,.063,-34,-.099,-33.2,-.074,-32.1,-.042,-31.1,-.021,-30.7,-.084,-29.3,-.021,-28.3,-.053,-26.7,-.011,-27.2,-.084,-25.5,-.084,-24.4,-.074,-23.4,-.059,-22.3,-.074,-21.3,-.059,-19.9,-.053,-18.8,-.067,-17.8,-.08,-16.7,-.067,-15.6,-.063,-14.6,-.074,-13.9,-.053,-11.8,-.074,-10.7,-.08,-9.7,-.067,-8.6,-.074,-7.6,-.053,-6.5,-.063,-5.5,-.053,-4.4,-.059,-3.4,-.032,-2.3,-.053,-1.3,-.053,-3,0,-1.6,.021,-.6,.021,
.5,.042,1.5,.021,2.6,0,3.6,.032,4.7,-.011,5.8,.053,6.8,.011,8.2,.059,9.3,-.017,10.3,0,11.4,.021,12.4,.004,13.1,-.032,13.8,-.074,14.5,.021,15.6,.063,16.3,-.011,17,.09,17.4,-.063,18.1,.053,19.2,-.021,19.9,-.063,20.9,.095,21.5,.057,22.3,.021,23,-.042,23.7,-.063,24.7,.074,25.5,-.053,26.2,-.053,27.1,.074,27.6,.032,28.3,-.053,29.3,.084,30,-.074,30.7,-.042,31.5,-.074,32.1,.221,32.6,.137,33.1,.252,34,.179,33.5,-.074,35.2,-.053];
const hRed = [-34,-.105,-33.2,-.074,-32.5,-.042,-31.8,-.011,-31.2,.042,-30.5,.074,-30,.137,-29.5,.168,-28.9,.189,-28.5,.235,-27.9,.105,-27.2,.099,-26.5,.084,-25.8,.011,-25.1,-.011,-24.4,.053,-23.7,-.011,-23,.011,-22.3,0,-21.6,.011,-20.9,0,-20.4,-.063,-19.5,-.067,-18.5,-.067,-17.4,-.067,-16.4,-.067,-15.3,-.059,-14.2,-.042,-13.2,-.011,-12.1,.032,-11.1,.017,-10,0,-9,0,-7.9,-.032,-6.9,-.036,-5.8,-.042,-4.8,-.032,-3.7,-.032,-2.7,-.021,-1.6,-.011,-.8,-.011,0,0];
const hRedHi = [-34,.126,-33.2,.231,-32.5,.137,-31.6,.231,-30.9,.294,-30.4,.29,-29.8,.42,-29.1,.42,-28.5,.458,-27.7,.305,-26.9,.273,-26,.252,-25.5,.179,-24.8,.221,-24.1,.137,-23.4,.158,-22.7,.168,-21.8,.105,-21.1,.074,-20.2,.032,-19.2,.021,-18.1,.011,-17.1,.011,-16,.021,-14.9,.042,-14.1,.074,-13.2,.088,-12.3,.095,-11.4,.074,-10.4,.084,-9.3,.063,-8.3,.032,-7.2,.021,-6.2,.021,-5.1,.021,-4.1,.032,-3,.042,-2,.042,-.9,.053,0,.179];
const hRedLo = [-34,-.347,-33.3,-.395,-32.8,-.294,-32.1,-.221,-31.2,-.179,-30.4,-.126,-29.5,-.084,-28.8,-.053,-28.3,-.105,-27.4,-.116,-26.5,-.126,-25.8,-.158,-25.1,-.179,-24.4,-.137,-23.7,-.126,-22.7,-.105,-21.6,-.08,-20.6,-.116,-19.5,-.126,-18.5,-.116,-17.4,-.109,-16.4,-.105,-15.3,-.105,-14.2,-.095,-13.2,-.074,-12.1,-.032,-11.1,-.053,-10,-.074,-9,-.08,-7.9,-.095,-6.9,-.095,-5.8,-.095,-4.8,-.084,-3.7,-.084,-2.7,-.08,-1.6,-.074,-.8,-.074,0,-.116];
const hBlue = [0,.067,.8,.042,1.9,.021,2.7,0,3.6,-.011,4.4,.011,5.4,0,6.5,-.011,7.5,-.017,8.6,-.032,9.5,-.021,10.5,-.011,11.6,0,12.6,0,13.7,0,14.5,.025,15.6,.038,16.6,.038,17.7,.042,18.7,0,19.8,-.011,20.7,-.038,21.4,-.067,21.9,-.067,22.5,.042,23.2,.046,23.9,.042,24.5,.042,24.9,.084,25.4,.158,25.9,.021,26.8,.021,27.9,0,28.7,-.032,29.4,-.074,30.3,-.067,31.4,-.053,32.4,-.038,33.3,-.053,34.2,-.074,34.5,-.067];
const hBlueHi = [0,.179,.8,.105,1.9,.063,2.9,.046,4,.042,5.4,.046,6.8,.042,8.2,.032,9.6,.021,11,.038,12.4,.042,13.5,.042,14.5,.074,15.6,.095,16.6,.105,17.7,.109,18.7,.084,19.8,.063,20.8,.053,21.9,.032,22.6,.116,23.3,.168,24,.189,24.7,.168,25.4,.298,25.9,.189,26.8,.168,27.9,.116,28.9,.063,30,.084,31,.116,32.1,.147,33.1,-.004,34.5,-.021];
const hBlueLo = [0,-.105,.8,-.042,1.9,-.032,2.9,-.042,4.4,-.053,5.8,-.046,7.2,-.059,8.6,-.074,10,-.053,11.4,-.042,12.8,-.042,13.8,-.032,14.9,-.011,15.9,0,17,-.011,18,-.042,19.1,-.063,20.1,-.08,21,-.105,21.7,-.147,22.2,-.084,22.9,-.011,23.6,-.011,24.5,-.084,25.2,-.2,26.1,-.21,27.2,-.189,28.2,-.179,29.3,-.21,30.3,-.227,31.4,-.231,32.1,-.084,33.1,-.095,34.5,-.126];

// ---------- layout ----------
const L0 = 7, LW = 453, R0 = 471, RW = 444;
const rowTop = [3, 379, 755, 1132];
const captionY = [334, 711, 1087, 1463];
const gridTop = [12.3, 390, 766, 1143];
const gridH = [251, 250.7, 250.7, 250.7];

const panels = [
  { scatter: aScatter, red: aRed, redHi: aRedHi, redLo: aRedLo, blue: aBlue, blueHi: aBlueHi, blueLo: aBlueLo, yTicks: yTicksA, xTicks, y: [-222, 624], x: [-41.4, 41.7] },
  { scatter: bScatter, red: bRed, redHi: bRedHi, redLo: bRedLo, blue: bBlue, blueHi: bBlueHi, blueLo: bBlueLo, yTicks: yTicksB, xTicks, y: [-0.425, 0.628], x: [-41.75, 41.9] },
  { scatter: cScatter, red: cRed, redHi: cRedHi, redLo: cRedLo, blue: cBlue, blueHi: cBlueHi, blueLo: cBlueLo, yTicks: yTicksC, xTicks, y: [-0.462, 0.628], x: [-41.4, 41.7] },
  { scatter: dScatter, red: dRed, redHi: dRedHi, redLo: dRedLo, blue: dBlue, blueHi: dBlueHi, blueLo: dBlueLo, yTicks: yTicksD, xTicks, y: [-0.551, 1.036], x: [-41.75, 41.9] },
  { scatter: eScatter, red: eRed, redHi: eRedHi, redLo: eRedLo, blue: eBlue, blueHi: eBlueHi, blueLo: eBlueLo, yTicks: yTicksE, xTicks, y: [-0.423, 0.456], x: [-41.4, 41.7] },
  { scatter: fScatter, red: fRed, redHi: fRedHi, redLo: fRedLo, blue: fBlue, blueHi: fBlueHi, blueLo: fBlueLo, yTicks: yTicksF, xTicks, y: [-1.053, 1.059], x: [-41.75, 41.9] },
  { scatter: gScatter, red: gRed, redHi: gRedHi, redLo: gRedLo, blue: gBlue, blueHi: gBlueHi, blueLo: gBlueLo, yTicks: yTicksG, xTicks: xTicksG, y: [-0.426, 0.454], x: [-25.8, 26.04] },
  { scatter: hScatter, red: hRed, redHi: hRedHi, redLo: hRedLo, blue: hBlue, blueHi: hBlueHi, blueLo: hBlueLo, yTicks: yTicksH, xTicks, y: [-0.54, 1.04], x: [-41.75, 41.9] },
];

const pts = (a: number[]) => {
  const r: number[][] = [];
  for (let i = 0; i + 1 < a.length; i += 2) r.push([a[i], a[i + 1]]);
  return r;
};
const fmt = (v: number) => {
  const r = Math.round(v * 1000) / 1000;
  return String(r).replace(/^(-?)0\./, "$1.");
};

function buildOption() {
  const grid: any[] = [];
  const xAxis: any[] = [];
  const yAxis: any[] = [];
  const series: any[] = [];
  const graphic: any[] = [];

  panels.forEach((p, i) => {
    const row = Math.floor(i / 2);
    const right = i % 2 === 1;
    const bgX = right ? R0 : L0;
    const bgW = right ? RW : LW;
    graphic.push({
      type: "rect", z: -1, silent: true,
      shape: { x: bgX, y: rowTop[row], width: bgW, height: 302 },
      style: { fill: BG },
    });
    graphic.push({
      type: "text", z: 10, silent: true,
      x: right ? 697 : 237, y: captionY[row], scaleX: 1.25,
      style: { text: captions[i], fontFamily: SERIF, fontSize: 24, fill: "#111", textAlign: "center", textVerticalAlign: "middle" },
    });
    const left = right ? 516 : 52;
    const width = right ? 397.3 : 398;
    grid.push({ left, top: gridTop[row], width, height: gridH[row], show: true, backgroundColor: "#ffffff", borderWidth: 0 });
    xAxis.push({
      gridIndex: i, type: "value", min: p.x[0], max: p.x[1],
      axisLine: { show: true, onZero: false, lineStyle: { color: "#333", width: 1 } },
      axisTick: { show: true, customValues: p.xTicks, length: 5, lineStyle: { color: "#333" } },
      axisLabel: { customValues: p.xTicks, fontSize: 10.5, color: "#222", margin: 4, fontFamily: FONT, formatter: fmt },
      splitLine: { show: false },
      name: xTitle, nameLocation: "middle", nameGap: 16,
      nameTextStyle: { fontSize: 11, color: "#222", fontFamily: FONT },
    });
    yAxis.push({
      gridIndex: i, type: "value", min: p.y[0], max: p.y[1],
      axisLine: { show: true, onZero: false, lineStyle: { color: "#333", width: 1 } },
      axisTick: { show: true, customValues: p.yTicks, length: 5, lineStyle: { color: "#333" } },
      axisLabel: { customValues: p.yTicks, rotate: 90, fontSize: 9.5, color: "#222", margin: 9, fontFamily: FONT, formatter: fmt },
      splitLine: { show: false },
      name: yTitles[i], nameLocation: "middle", nameGap: 22, nameRotate: 90,
      nameTextStyle: { fontSize: 10, color: "#222", fontFamily: FONT },
    });
    series.push({
      type: "scatter", xAxisIndex: i, yAxisIndex: i, z: 3,
      data: pts(p.scatter), symbol: "circle", symbolSize: [7, 5.6],
      itemStyle: { color: NAVY, opacity: 1 }, silent: true,
      markLine: {
        silent: true, z: 1, symbol: ["none", "none"], label: { show: false },
        data: [
          ...p.yTicks.map((v) => ({ yAxis: v, lineStyle: { color: BG, width: 1.2, type: "solid" } })),
          { xAxis: 0, lineStyle: { color: RED, width: 1, type: "solid" } },
        ],
      },
    });
    const line = (d: number[], color: string, w: number, z: number) => ({
      type: "line", xAxisIndex: i, yAxisIndex: i, z, data: pts(d), showSymbol: false, symbol: "none",
      silent: true, lineStyle: { color, width: w }, smooth: false,
    });
    series.push(line(p.redHi, GREY, 1, 4));
    series.push(line(p.redLo, GREY, 1, 4));
    series.push(line(p.blueHi, GREY, 1, 4));
    series.push(line(p.blueLo, GREY, 1, 4));
    series.push(line(p.red, RED, 2.5, 5));
    series.push(line(p.blue, BLUE, 2.5, 5));
  });

  return { animation: false, backgroundColor: "#ffffff", grid, xAxis, yAxis, series, graphic };
}

export default function App() {
  const ref = useRef<HTMLDivElement>(null);
  useEffect(() => {
    if (!ref.current) return;
    const chart = echarts.init(ref.current, undefined, { renderer: "svg" });
    chart.setOption(buildOption() as any);
    return () => chart.dispose();
  }, []);
  return <div ref={ref} style={{ position: "absolute", left: 0, top: 0, width: 915, height: 1479 }} />;
}
